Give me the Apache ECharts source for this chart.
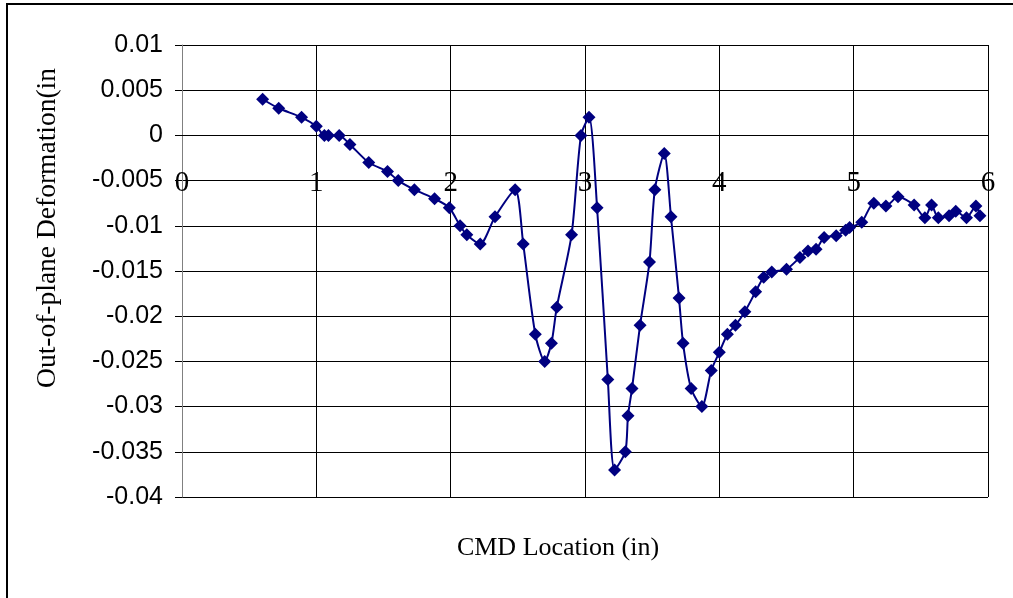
<!DOCTYPE html>
<html>
<head>
<meta charset="utf-8">
<script src="https://cdn.jsdelivr.net/npm/echarts@6/dist/echarts.min.js"></script>
<style>
  html, body { margin: 0; padding: 0; background: #fff; }
  #chart { width: 1013px; height: 598px; }
</style>
</head>
<body>
<div id="chart"></div>
<script>
// CMD location along the specimen (in)
const cmdLocation = [
  0.60, 0.72, 0.89, 1.00, 1.06, 1.09, 1.17, 1.25, 1.39, 1.53,
  1.61, 1.73, 1.88, 1.99, 2.07, 2.12, 2.22, 2.33, 2.48, 2.54,
  2.63, 2.70, 2.75, 2.79, 2.90, 2.97, 3.03, 3.09, 3.17, 3.22,
  3.30, 3.32, 3.35, 3.41, 3.48, 3.52, 3.59, 3.64, 3.70, 3.73,
  3.79, 3.87, 3.94, 4.00, 4.06, 4.12, 4.19, 4.27, 4.33, 4.39,
  4.50, 4.60, 4.66, 4.72, 4.78, 4.87, 4.94, 4.97, 5.06, 5.15,
  5.24, 5.33, 5.45, 5.53, 5.58, 5.63, 5.71, 5.76, 5.84, 5.91,
  5.94
];

// Out-of-plane deformation (in)
const deformation = [
  0.0040, 0.0030, 0.0020, 0.0010, 0.0000, 0.0000, 0.0000, -0.0010, -0.0030, -0.0040,
  -0.0050, -0.0060, -0.0070, -0.0080, -0.0100, -0.0110, -0.0120, -0.0090, -0.0060, -0.0120,
  -0.0220, -0.0250, -0.0230, -0.0190, -0.0110, 0.0000, 0.0020, -0.0080, -0.0270, -0.0370,
  -0.0350, -0.0310, -0.0280, -0.0210, -0.0140, -0.0060, -0.0020, -0.0090, -0.0180, -0.0230,
  -0.0280, -0.0300, -0.0260, -0.0240, -0.0220, -0.0210, -0.0195, -0.0173, -0.0157, -0.0151,
  -0.0148, -0.0135, -0.0128, -0.0126, -0.0113, -0.0111, -0.0105, -0.0102, -0.0096, -0.0075,
  -0.0078, -0.0068, -0.0077, -0.0091, -0.0077, -0.0091, -0.0089, -0.0084, -0.0091, -0.0078,
  -0.0089
];

// Value-axis tick labels
const xTickLabels = ['0', '1', '2', '3', '4', '5', '6'];
const yTickLabels = ['-0.04', '-0.035', '-0.03', '-0.025', '-0.02', '-0.015', '-0.01', '-0.005', '0', '0.005', '0.01'];

const points = cmdLocation.map((x, i) => [x, deformation[i]]);

// Plot box and value range
const gridTop = 45, gridBottom = 101, chartHeight = 598;
const yMin = -0.04, yMax = 0.01;
const plotHeight = chartHeight - gridTop - gridBottom;
// The horizontal axis crosses the vertical one at zero
const xAxisOffset = -((0 - yMin) / (yMax - yMin)) * plotHeight;

const chart = echarts.init(document.getElementById('chart'), null, { renderer: 'canvas' });

chart.setOption({
  animation: false,
  backgroundColor: '#ffffff',
  grid: { left: 182, right: 25, top: gridTop, bottom: gridBottom, containLabel: false, outerBoundsMode: 'none' },
  xAxis: {
    type: 'value',
    position: 'bottom',
    offset: xAxisOffset,
    min: 0,
    max: 6,
    interval: 1,
    name: 'CMD Location (in)',
    nameLocation: 'middle',
    nameGap: 400,
    nameTextStyle: {
      fontFamily: 'Liberation Serif', fontSize: 26, color: '#000',
      padding: [0, 54, 0, 0]
    },
    axisLine: { show: true, onZero: false, lineStyle: { color: '#000', width: 1 } },
    axisTick: { show: false },
    axisLabel: {
      margin: 33,
      fontFamily: 'Liberation Serif', fontSize: 29, color: '#000',
      formatter: v => xTickLabels[Math.round(v)]
    },
    splitLine: { show: true, showMinLine: false, lineStyle: { color: '#000', width: 1 } }
  },
  yAxis: {
    type: 'value',
    min: yMin,
    max: yMax,
    interval: 0.005,
    name: 'Out-of-plane Deformation(in',
    nameLocation: 'middle',
    nameGap: 120,
    nameRotate: 90,
    nameTextStyle: {
      fontFamily: 'Liberation Serif', fontSize: 27.5, color: '#000',
      padding: [0, 0, 0, 86]
    },
    axisLine: { show: true, onZero: false, lineStyle: { color: '#808080', width: 1 } },
    axisTick: { show: true, inside: false, length: 7, lineStyle: { color: '#000' } },
    axisLabel: {
      margin: 19,
      fontFamily: 'Liberation Sans', fontSize: 25, color: '#000',
      formatter: v => yTickLabels[Math.round((v - yMin) / 0.005)]
    },
    splitLine: { show: true, lineStyle: { color: '#000', width: 1 } }
  },
  graphic: [{
    type: 'rect',
    shape: { x: 7, y: 4, width: 1030, height: 620 },
    style: { fill: 'none', stroke: '#000', lineWidth: 2 },
    silent: true,
    z: 100
  }],
  series: [{
    type: 'line',
    data: points,
    smooth: 0.25,
    symbol: 'diamond',
    symbolSize: 13,
    showAllSymbol: true,
    lineStyle: { color: '#000080', width: 2 },
    itemStyle: { color: '#000080', borderColor: '#000080', borderWidth: 0 },
    z: 3
  }]
});
</script>
</body>
</html>
